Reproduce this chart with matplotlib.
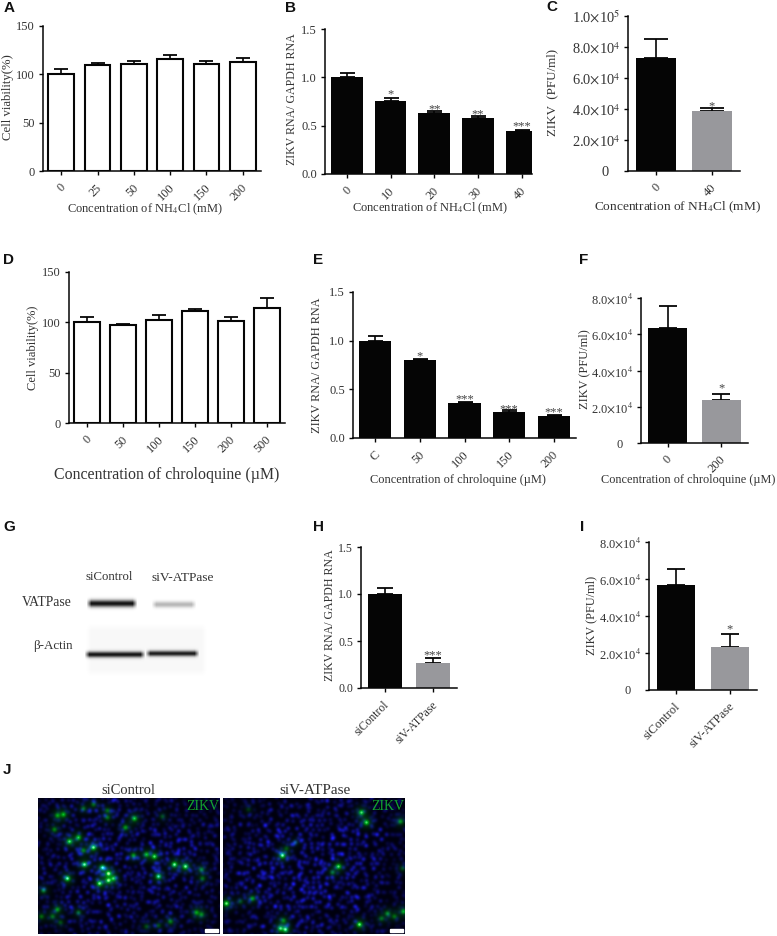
import matplotlib
matplotlib.use('Agg')
import matplotlib.pyplot as plt
from matplotlib.transforms import ScaledTranslation
import numpy as np

plt.rcParams['font.family'] = ['Liberation Serif', 'DejaVu Serif']
plt.rcParams['mathtext.fontset'] = 'stix'

W, H = 777, 936
INK = '#050505'
TXT = '#333333'
GREY = '#98989c'

# ---- panel data ------------------------------------------------------------
a_cats = ['0', '25', '50', '100', '150', '200']
a_vals = [100, 110, 110.5, 115.5, 110.5, 113]
a_errs = [6, 2, 3.5, 4, 3.5, 4]

b_cats = ['0', '10', '20', '30', '40']
b_vals = [1.0, 0.755, 0.635, 0.58, 0.45]
b_errs = [0.05, 0.035, 0.015, 0.025, 0.01]
b_stars = ['', '*', '**', '**', '***']
b_star_y = [0, 0.84, 0.69, 0.63, 0.51]

c_cats = ['0', '40']
c_vals = [7.3e4, 3.9e4]
c_errs = [1.2e4, 0.15e4]
c_stars = ['', '*']
c_star_y = [0, 4.26e4]

d_cats = ['0', '50', '100', '150', '200', '500']
d_vals = [100, 97, 102, 111, 101, 114]
d_errs = [5, 1.5, 5, 2, 4, 10]

e_cats = ['C', '50', '100', '150', '200']
e_vals = [1.0, 0.805, 0.355, 0.265, 0.225]
e_errs = [0.05, 0.01, 0.02, 0.02, 0.01]
e_stars = ['', '*', '***', '***', '***']
e_star_y = [0, 0.86, 0.41, 0.31, 0.28]

f_cats = ['0', '200']
f_vals = [6.35e4, 2.35e4]
f_errs = [1.2e4, 0.35e4]
f_stars = ['', '*']
f_star_y = [0, 3.09e4]

h_cats = ['siControl', 'siV-ATPase']
h_vals = [1.0, 0.27]
h_errs = [0.06, 0.05]
h_stars = ['', '***']
h_star_y = [0, 0.37]

i_cats = ['siControl', 'siV-ATPase']
i_vals = [5.65e4, 2.35e4]
i_errs = [0.9e4, 0.7e4]
i_stars = ['', '*']
i_star_y = [0, 3.35e4]

viab_ticks = [0, 50, 100, 150]
viab_labels = ['0', '50', '100', '150']
rna_ticks = [0, 0.5, 1.0, 1.5]
rna_labels = ['0.0', '0.5', '1.0', '1.5']
pfu_ticks_5 = [0, 2e4, 4e4, 6e4, 8e4, 1e5]
pfu_labels_5 = ['0   ', r'2.0$\times$10$^{4}$', r'4.0$\times$10$^{4}$', r'6.0$\times$10$^{4}$',
                r'8.0$\times$10$^{4}$', r'1.0$\times$10$^{5}$']
pfu_ticks_4 = pfu_ticks_5[:-1]
pfu_labels_4 = pfu_labels_5[:-1]

# blot bands: x0, x1, y, half height, darkness
blot_bands = [(86, 137, 603, 2.5, 0.92), (151, 196, 604, 2.2, 0.28),
              (84, 145, 654, 2.1, 0.88), (145, 199, 653, 2.0, 0.85)]

left_spots = [(19, 17, .6), (25, 16, .7), (55, 6, .4), (45, 10, .4), (69, 12, .4), (69, 19, .4),
              (96, 20, .8), (87, 29, .6), (16, 31, .5), (31, 43, .9), (40, 39, .8), (55, 49, 1.),
              (45, 52, .5), (95, 57, .6), (108, 56, .7), (116, 58, .9), (136, 66, 1.), (147, 68, 1.),
              (163, 71, .5), (164, 80, .4), (46, 66, 1.), (64, 69, .9), (70, 75, 1.), (75, 80, .7),
              (70, 82, .9), (61, 85, 1.), (29, 80, 1.), (120, 78, .9), (5, 92, .5), (19, 111, .6),
              (14, 118, .4), (40, 114, .4), (3, 118, .4), (158, 114, .6), (163, 116, .5),
              (132, 123, .5), (108, 128, .3), (120, 127, .3), (22, 124, .3), (124, 18, .3)]
right_spots = [(138, 14, .9), (143, 24, .9), (177, 23, .6), (59, 57, 1.), (115, 68, .9), (109, 74, .4),
               (3, 105, 1.), (29, 100, .6), (17, 103, .3), (136, 126, 1.), (62, 131, .9), (57, 130, .8),
               (60, 122, .5), (164, 115, .5), (158, 120, .4), (171, 118, .4), (180, 113, .7),
               (179, 70, .3), (72, 44, .25), (63, 50, .3), (25, 11, .2)]

# coarse nuclei brightness of the two fields
left_bright = [[.45, .6, .75, .7, .55, .5, .45, .5],
               [.5, .75, .95, .8, .7, .85, .9, .6],
               [.6, .85, 1., .9, .85, 1., .85, .55],
               [.55, .8, .9, .85, .7, .75, .65, .5],
               [.4, .55, .7, .6, .5, .6, .55, .4]]
right_bright = [[.4, .5, .6, .7, .7, .65, .6, .45],
                [.6, .8, .9, .95, .9, .95, .75, .5],
                [.65, .9, .95, .9, 1., .9, .7, .5],
                [.6, .8, .85, 1., 1., .8, .65, .45],
                [.45, .55, .7, .75, .7, .55, .45, .35]]


def bar_panel(fig, box, cats, vals, errs, ymax, yticks, ylabels, colors=None, fill=True,
              right=None, stars=None, star_y=None, cat_size=8.8, tick_size=9, star_size=9, cap=5.0):
    x0, x1, ytop, ybot = box
    ax = fig.add_axes([x0 / W, 1 - ybot / H, (x1 - x0) / W, (ybot - ytop) / H])
    ax.patch.set_alpha(0)
    xs = np.arange(len(cats))
    if fill:
        colors = colors or [INK] * len(cats)
        ax.bar(xs, vals, width=0.72, color=colors, edgecolor='none', zorder=2)
    else:
        ax.bar(xs, vals, width=0.7, facecolor='white', edgecolor=INK, linewidth=1.5, zorder=2)
    ax.errorbar(xs, vals, yerr=[np.zeros(len(vals)), errs], fmt='none', ecolor=INK,
                elinewidth=1.2, capsize=cap, capthick=1.3, zorder=1)
    ax.set_xlim(-0.5, len(cats) - 0.5 if right is None else right)
    ax.set_ylim(0, ymax)
    ax.set_yticks(yticks, ylabels, fontsize=tick_size, color=TXT)
    ax.set_xticks(xs, cats, fontsize=cat_size, color=TXT, rotation=45, ha='right',
                  va='center', rotation_mode='anchor')
    ax.tick_params(length=3.2, width=1, color=INK)
    ax.tick_params(axis='y', pad=2.5)
    ax.tick_params(axis='x', pad=7.5)
    nudge = ScaledTranslation(2.5 / 100, 0, fig.dpi_scale_trans)
    for lab in ax.get_xticklabels():
        lab.set_transform(lab.get_transform() + nudge)
    ax.spines[['top', 'right']].set_visible(False)
    ax.spines[['left', 'bottom']].set_linewidth(1.1)
    ax.spines[['left', 'bottom']].set_color(INK)
    ax.spines['left'].set_zorder(4)
    if stars:
        for x, s, y in zip(xs, stars, star_y):
            if s:
                ax.annotate(s, (x, y), xytext=(0, -3.4), textcoords='offset points', ha='center',
                            va='baseline', fontsize=star_size, color='#444444',
                            annotation_clip=False, clip_on=True, zorder=5)
    return ax


def micrograph(box, spots, bright, shift):
    x0, x1, y0, y1 = box
    w, h = x1 - x0, y1 - y0
    yy, xx = np.mgrid[0:h, 0:w]
    blue = np.zeros((h, w))
    green = np.zeros((h, w))
    rows, cols = np.array(bright).shape
    # nuclei texture only: staggered lattice, wobble keeps it from looking like a grid
    step = 5.6
    for j, gy in enumerate(np.arange(0, h, step * 0.86)):
        for k, gx in enumerate(np.arange(0, w, step)):
            nx = gx + (j % 2) * step / 2 + 2.6 * np.sin(j * j * 0.37 + k * k * 0.53 + j * k * 0.11 + shift)
            ny = gy + 2.4 * np.cos(k * k * 0.71 + j * j * 0.29 + j * k * 0.17 + shift)
            r = int(np.clip(ny / h * rows, 0, rows - 1))
            c = int(np.clip(nx / w * cols, 0, cols - 1))
            amp = bright[r][c] * (0.45 + 0.55 * np.sin(j * j * 0.83 + k * k * 0.47 + shift) ** 2)
            blue += amp * np.exp(-((xx - nx) ** 2 + (yy - ny) ** 2) / (2 * 1.6 ** 2))
    for sx, sy, amp in spots:
        d2 = (xx - sx) ** 2 + (yy - sy) ** 2
        green += 0.85 * amp * (np.exp(-d2 / (2 * 1.7 ** 2)) + 0.3 * np.exp(-d2 / (2 * 4.5 ** 2)))
    img = np.zeros((h, w, 3))
    img[..., 0] = np.clip(green - 0.8, 0, 1) * 1.5 + 0.06 * blue
    img[..., 1] = np.clip(green * 0.85, 0, 1) + 0.06 * blue
    img[..., 2] = np.clip(0.05 + 0.5 * blue + np.clip(green - 0.7, 0, 1), 0, 1)
    return np.clip(img, 0, 1)


fig = plt.figure(figsize=(W / 100, H / 100), dpi=100)

# full-figure layer in pixel coordinates for the images and free text
ov = fig.add_axes([0, 0, 1, 1])
ov.set_xlim(0, W)
ov.set_ylim(H, 0)
ov.axis('off')

# ---- bar panels ------------------------------------------------------------
bar_panel(fig, (43, 261, 26, 171), a_cats, a_vals, a_errs, 150, viab_ticks, viab_labels, fill=False, cap=4.7)
bar_panel(fig, (325, 532, 29, 174), b_cats, b_vals, b_errs, 1.5, rna_ticks, rna_labels,
          right=4.24, stars=b_stars, star_y=b_star_y, cap=5.4)
bar_panel(fig, (628, 740, 16, 171), c_cats, c_vals, c_errs, 1e5, pfu_ticks_5, pfu_labels_5,
          colors=[INK, GREY], stars=c_stars, star_y=c_star_y, tick_size=10.4, cat_size=9, cap=8.5)
bar_panel(fig, (69, 285, 272, 423), d_cats, d_vals, d_errs, 150, viab_ticks, viab_labels, fill=False, cap=4.7)
bar_panel(fig, (353, 576, 292, 438), e_cats, e_vals, e_errs, 1.5, rna_ticks, rna_labels,
          stars=e_stars, star_y=e_star_y, cap=5.4)
bar_panel(fig, (641, 748, 298, 443), f_cats, f_vals, f_errs, 8e4, pfu_ticks_4, pfu_labels_4,
          colors=[INK, GREY], stars=f_stars, star_y=f_star_y, cat_size=9, cap=6.8)
bar_panel(fig, (361, 457, 547, 688), h_cats, h_vals, h_errs, 1.5, rna_ticks, rna_labels,
          colors=[INK, GREY], stars=h_stars, star_y=h_star_y, cat_size=8.4, tick_size=8.6, cap=6)
bar_panel(fig, (649, 757, 542, 690), i_cats, i_vals, i_errs, 8e4, pfu_ticks_4, pfu_labels_4,
          colors=[INK, GREY], stars=i_stars, star_y=i_star_y, cat_size=9, cap=6.8)

# ---- axis titles -----------------------------------------------------------
ylabs = [(8, 97, 'Cell viability(%)', 9.2), (292, 99, 'ZIKV RNA/ GAPDH RNA', 8.6),
         (552, 92, 'ZIKV  (PFU/ml)', 9.4), (33, 348, 'Cell viability(%)', 9),
         (317, 365, 'ZIKV RNA/ GAPDH RNA', 8.8), (584, 369, 'ZIKV (PFU/ml)', 8.9),
         (330, 615, 'ZIKV RNA/ GAPDH RNA', 8.6), (591, 615, 'ZIKV (PFU/ml)', 8.8)]
for x, y, s, fs in ylabs:
    ov.text(x, y, s, rotation=90, ha='center', va='center', fontsize=fs, color=TXT)

xlabs = [(145, 209, 'Concentration of NH$_4$Cl (mM)', 9.0), (430, 208, 'Concentration of NH$_4$Cl (mM)', 9.0),
         (678, 207, 'Concentration of NH$_4$Cl (mM)', 9.6), (167, 475, 'Concentration of chroloquine (µM)', 11.4),
         (458, 480, 'Concentration of chroloquine (µM)', 8.9), (688, 480, 'Concentration of chroloquine (µM)', 8.8)]
for x, y, s, fs in xlabs:
    ov.text(x, y, s, ha='center', va='center', fontsize=fs, color=TXT)

# ---- panel letters ---------------------------------------------------------
letters = [('A', 4, 8), ('B', 285, 8), ('C', 546, 7), ('D', 3, 260), ('E', 313, 260), ('F', 579, 260),
           ('G', 3, 527), ('H', 313, 527), ('I', 580, 527), ('J', 3, 770)]
for s, x, y in letters:
    ov.text(x, y, s, ha='left', va='center', fontsize=11, fontweight='bold',
            family='Liberation Sans', color='#111111')

# ---- western blot ----------------------------------------------------------
yy, xx = np.mgrid[570:690, 70:215]
blot = np.ones(xx.shape)
fade = np.clip((xx - 85) / 6, 0, 1) * np.clip((207 - xx) / 6, 0, 1) * \
    np.clip((yy - 622) / 8, 0, 1) * np.clip((677 - yy) / 8, 0, 1)
blot -= 0.03 * fade
for bx0, bx1, by, bh, dark in blot_bands:
    edge = np.clip((xx - bx0) / 5, 0, 1) * np.clip((bx1 - xx) / 5, 0, 1)
    blot -= dark * edge * np.exp(-((yy - by) ** 2) / (2 * bh ** 2))
ov.imshow(np.clip(blot, 0, 1), cmap='gray', vmin=0, vmax=1, extent=(70, 215, 690, 570),
          aspect='auto', interpolation='bilinear', zorder=0)
ov.text(109, 577, 'siControl', ha='center', va='center', fontsize=9.2, color=TXT)
ov.text(183, 578, 'siV-ATPase', ha='center', va='center', fontsize=9.6, color=TXT)
ov.text(72, 603, 'VATPase', ha='right', va='center', fontsize=9.8, color=TXT)
ov.text(73, 646, 'β-Actin', ha='right', va='center', fontsize=9.4, color=TXT)

# ---- micrographs -----------------------------------------------------------
for box, spots, bright, shift, title, cx, fs in [
        ((38, 220, 798, 934), left_spots, left_bright, 0.3, 'siControl', 128, 10.5),
        ((223, 405, 798, 934), right_spots, right_bright, 1.9, 'siV-ATPase', 315, 11)]:
    ov.imshow(micrograph(box, spots, bright, shift), extent=(box[0], box[1], box[3], box[2]),
              aspect='auto', interpolation='bilinear', zorder=1)
    ov.add_patch(plt.Rectangle((box[1] - 15, 929), 13, 3, color='white', zorder=2))
    ov.text(box[1] - 1, 806, 'ZIKV', ha='right', va='center', fontsize=10, color='#12a32e', zorder=3)
    ov.text(cx, 791, title, ha='center', va='center', fontsize=fs, color=TXT)
ov.set_xlim(0, W)
ov.set_ylim(H, 0)

fig.savefig('out.png', dpi=100, facecolor='white')
